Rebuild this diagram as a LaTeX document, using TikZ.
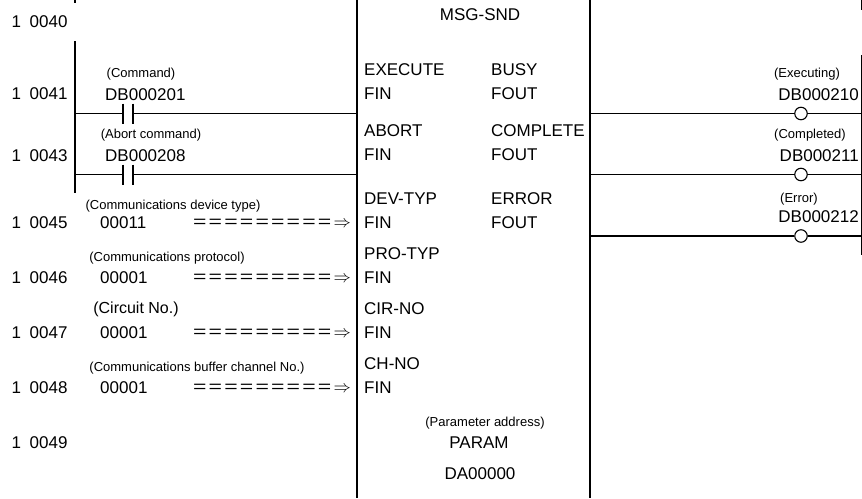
\documentclass[tikz,border=0pt]{standalone}
\usepackage{fontspec}
\setmainfont{Liberation Sans}
\usetikzlibrary{calc}
\newcommand{\eqbar}{\scalebox{1.35}[1]{=}\kern2.2pt}
\tikzset{
  lbl/.style={inner sep=0pt, anchor=west, font=\fontsize{17}{19}\selectfont},
  lblc/.style={inner sep=0pt, font=\fontsize{17}{19}\selectfont},
  note/.style={inner sep=0pt, font=\fontsize{13}{15}\selectfont},
  wire/.style={line width=1.1pt},
  frame/.style={line width=1.3pt},
  coil/.style={circle, draw, line width=1.1pt, fill=white, minimum size=12.5pt, inner sep=0pt},
  feed/.style={inner sep=0pt, anchor=east, font=\fontsize{17}{19}\selectfont}
}
\begin{document}
\begin{tikzpicture}[x=1pt,y=-1pt]
        \useasboundingbox (0,0) rectangle (862,498);
        % power rails and function box
        \draw[wire] (75,0)--(75,3);
        \draw[wire] (75,41)--(75,193);
        \draw[wire] (861.5,0)--(861.5,10);
        \draw[wire] (861.5,55)--(861.5,255);
        \draw[frame] (357,0)--(357,498);
        \draw[frame] (590,0)--(590,498);
        % step numbers
        \foreach \r/\y in {40/22,41/94,43/156,45/223,46/278,47/333,48/388,49/443}
          \node[lbl] (step\r) at (11.5,\y) {1\hspace{8.5pt}00\r};
        % contacts on the left
        \foreach \n/\y/\addr/\cmt/\cx in {a/113.5/DB000201/Command/141,b/174.5/DB000208/Abort command/151}{
          \coordinate (rail\n) at (75,\y);
          \coordinate (in\n) at (357,\y);
          \coordinate (pa\n) at (123,\y);
          \coordinate (pb\n) at (133,\y);
          \draw[wire] (rail\n)--(pa\n) (pb\n)--(in\n);
          \draw[wire] ($(pa\n)+(0,-10)$)--($(pa\n)+(0,10)$);
          \draw[wire] ($(pb\n)+(0,-10)$)--($(pb\n)+(0,10)$);
          \node[lbl] (addr\n) at (105,\y-19) {\addr};
          \node[note] (cmt\n) at (\cx,\y-39.5) {(\cmt)};
        }
        % coils on the right
        \foreach \n/\y/\addr/\cmt/\cx/\cy in {a/113.5/DB000210/Executing/807/74,b/174.5/DB000211/Completed/810/135,c/236/DB000212/Error/799/199}{
          \coordinate (out\n) at (590,\y);
          \coordinate (end\n) at (861.5,\y);
          \node[coil] (coil\n) at (801,\y) {};
          \draw[wire] (out\n)--(coil\n) (coil\n)--(end\n);
          \node[lbl, anchor=east] (oaddr\n) at (859,\y-19) {\addr};
          \node[note] (ocmt\n) at (\cx,\cy) {(\cmt)};
        }
        % constants fed into the box
        \foreach \n/\y/\val in {a/223/00011,b/278/00001,c/333/00001,d/388/00001}{
          \node[lbl] (val\n) at (100,\y) {\val};
          \node[feed] (feed\n) at (351,\y) {\eqbar\eqbar\eqbar\eqbar\eqbar\eqbar\eqbar\eqbar\eqbar$\Rightarrow$};
        }
        \node[note] (notea) at (173,206) {(Communications device type)};
        \node[note] (noteb) at (167,258) {(Communications protocol)};
        \node[lblc, font=\fontsize{16}{18}\selectfont] (notec) at (136,309) {(Circuit No.)};
        \node[note] (noted) at (197,368) {(Communications buffer channel No.)};
        % pin names inside the box
        \foreach \n/\y/\txt in {e/70/EXECUTE,f/94/FIN,g/131/ABORT,h/155/FIN,i/199/DEV-TYP,j/223/FIN,k/254/PRO-TYP,l/278/FIN,m/309/CIR-NO,n/333/FIN,o/364/CH-NO,p/388/FIN}
          \node[lbl] (pin\n) at (364,\y) {\txt};
        \foreach \n/\y/\txt in {a/70/BUSY,b/94/FOUT,c/131/COMPLETE,d/155/FOUT,e/199/ERROR,f/223/FOUT}
          \node[lbl] (pout\n) at (491,\y) {\txt};
        \node[lblc] (fname) at (480,15) {MSG-SND};
        \node[note] (pcmt) at (485,423) {(Parameter address)};
        \node[lblc] (param) at (479,443) {PARAM};
        \node[lblc] (parea) at (480,474) {DA00000};
      \end{tikzpicture}
\end{document}
